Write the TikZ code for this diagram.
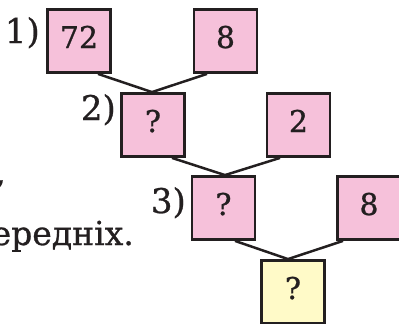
\documentclass[tikz,border=0pt]{standalone}
\usepackage{fontspec}
\setmainfont{DejaVu Serif}
\newfontfamily\heavyserif{DejaVu Serif}[FakeBold=0.8]
\definecolor{boxpink}{RGB}{246,193,218}
\definecolor{boxyellow}{RGB}{255,250,200}
\definecolor{ink}{RGB}{35,31,32}
\tikzset{
  numbox/.style={draw=ink, line width=2.8pt, fill=boxpink, minimum width=63pt, minimum height=63pt,
    inner sep=0pt, text height=22pt, text depth=8pt, font=\heavyserif\fontsize{30}{30}\selectfont, text=ink},
  ansbox/.style={numbox, fill=boxyellow},
  steplabel/.style={anchor=base east, inner sep=0pt, font=\heavyserif\fontsize{34}{34}\selectfont, text=ink},
  bodytext/.style={anchor=base east, inner sep=0pt, font=\heavyserif\fontsize{33}{33}\selectfont, text=ink},
  link/.style={draw=ink, line width=2.5pt}
}
\begin{document}
\begin{tikzpicture}[x=1pt,y=-1pt]
\useasboundingbox (0,0) rectangle (399,324);
% boxes
\node[numbox] (b1) at (79,41) {72};
\node[numbox] (b2) at (225.5,41) {8};
\node[numbox] (b3) at (153,125) {?};
\node[numbox] (b4) at (298.5,125) {2};
\node[numbox] (b5) at (223.5,208) {?};
\node[numbox] (b6) at (369,208) {8};
\node[ansbox] (b7) at (293,292) {?};
% step labels
\node[steplabel] (l1) at (40,43) {1)};
\node[steplabel] (l2) at (116,120) {2)};
\node[steplabel] (l3) at (186,213) {3)};
% surrounding text
\node[bodytext] (t1) at (6,184) {,};
\node[bodytext] (t2) at (134,245) {ередніх.};
% connectors
\draw[link] ([xshift=19pt]b1.south) -- ([xshift=-1pt]b3.north);
\draw[link] ([xshift=-18.5pt]b2.south) -- ([xshift=-1pt]b3.north);
\draw[link] ([xshift=19pt]b3.south) -- ([xshift=1.5pt]b5.north);
\draw[link] ([xshift=-18.5pt]b4.south) -- ([xshift=1.5pt]b5.north);
\draw[link] ([xshift=11.5pt]b5.south) -- ([xshift=-5pt]b7.north);
\draw[link] ([xshift=-26pt]b6.south) -- ([xshift=-5pt]b7.north);
\end{tikzpicture}
\end{document}
